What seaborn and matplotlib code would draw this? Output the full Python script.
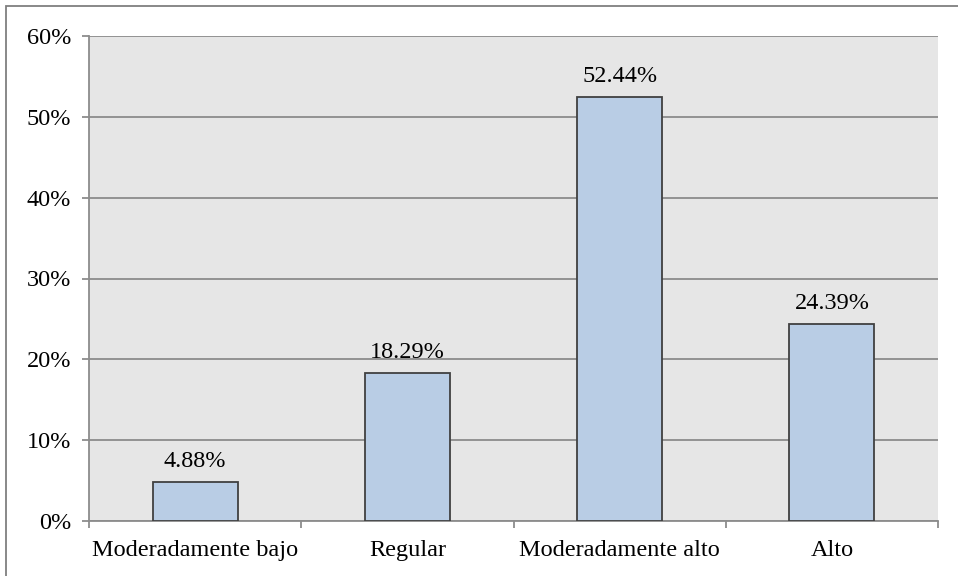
import matplotlib
matplotlib.use("Agg")
import matplotlib.pyplot as plt
import seaborn as sns
import pandas as pd
import numpy as np
from matplotlib.ticker import FixedLocator, PercentFormatter
from matplotlib.patches import Rectangle

categories = ["Moderadamente bajo", "Regular", "Moderadamente alto", "Alto"]
values = [4.88, 18.29, 52.44, 24.39]
yticks = [0, 10, 20, 30, 40, 50, 60]

df = pd.DataFrame({"cat": categories, "val": values})

sns.set_style("white")
plt.rcParams["font.family"] = ["Liberation Serif", "DejaVu Serif"]

fig = plt.figure(figsize=(9.58, 5.76), dpi=100)
ax = fig.add_axes([89/958, 1-521/576, (938-89)/958, (521-36)/576])
ax.set_facecolor("#E6E6E6")

sns.barplot(data=df, x="cat", y="val", ax=ax, color="#B9CDE5",
            edgecolor="#404040", linewidth=1.3, width=0.4, saturation=1, zorder=3)

ax.set_ylim(0, 60)
ax.set_xlim(-0.5, len(categories) - 0.5)
ax.set_yticks(yticks)
ax.yaxis.set_major_formatter(PercentFormatter(decimals=0))
ax.yaxis.grid(True, color="#8C8C8C", linewidth=1.3, zorder=0)
ax.set_axisbelow(True)

ax.xaxis.set_minor_locator(FixedLocator(np.arange(-0.5, len(categories), 1.0)))
ax.tick_params(axis="x", which="major", bottom=True, length=0, pad=13.5, labelsize=17.5, labelcolor="black")
ax.tick_params(axis="x", which="minor", bottom=True, length=5, width=1.3, color="#8C8C8C", direction="out")
ax.tick_params(axis="y", which="major", left=True, length=5, width=1.3, color="#8C8C8C", direction="out",
               labelsize=17.5, labelcolor="black", pad=8)
ax.set_xlabel("")
ax.set_ylabel("")

for s in ["top", "right"]:
    ax.spines[s].set_visible(False)
for s in ["left", "bottom"]:
    ax.spines[s].set_color("#8C8C8C")
    ax.spines[s].set_linewidth(1.3)

for i, v in enumerate(values):
    ax.annotate(f"{v:.2f}%", (i, v), xytext=(0, 7), textcoords="offset points",
                ha="center", va="bottom", fontsize=17.5, color="black")

fig.patches.append(Rectangle((6/958, -0.1), 1.2, 1 - 6/576 + 0.1, transform=fig.transFigure,
                             fill=False, edgecolor="#7F7F7F", linewidth=1.3))

fig.savefig("out.png", dpi=100)
